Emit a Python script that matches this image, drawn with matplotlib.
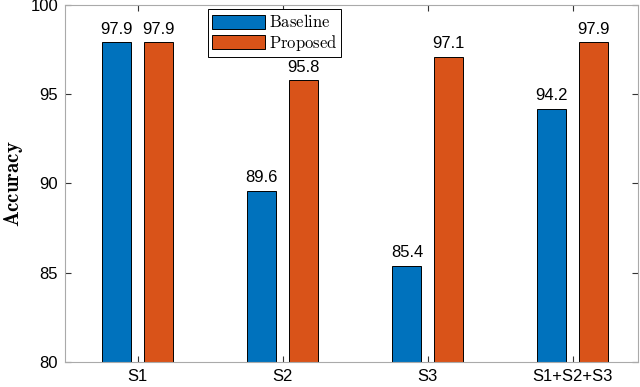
import numpy as np
import matplotlib.pyplot as plt

plt.rcParams['mathtext.fontset'] = 'cm'
plt.rcParams['font.family'] = ['Liberation Sans', 'DejaVu Sans']

# data
categories = ['S1', 'S2', 'S3', 'S1+S2+S3']
baseline = [97.9, 89.6, 85.4, 94.2]
proposed = [97.9, 95.8, 97.1, 97.9]

fig = plt.figure(figsize=(6.4, 3.87), dpi=100)
ax = fig.add_axes([65/640, 1-362/387, (638-65)/640, (362-5)/387])

x = np.arange(1, len(categories)+1)
w = 0.2
off = 0.143
b1 = ax.bar(x-off, baseline, w, color='#0072BD', edgecolor='black', linewidth=0.7,
            label=r'$\mathrm{Baseline}$')
b2 = ax.bar(x+off, proposed, w, color='#D95319', edgecolor='black', linewidth=0.7,
            label=r'$\mathrm{Proposed}$')

#value labels on top of bars
for xs, vals in [(x-off, baseline), (x+off, proposed)]:
    for xi, v in zip(xs, vals):
        ax.text(xi, v+0.3, '%.1f' % v, ha='center', va='bottom', fontsize=12)

ax.set_xlim(0.5, 4.45)
ax.set_ylim(80, 100)
ax.set_yticks([80, 85, 90, 95, 100])
ax.set_xticks(x)
ax.set_xticklabels(categories)
ax.tick_params(direction='in', top=True, right=True, labelsize=12, length=4,
               color='#333333', pad=5)
for s in ax.spines.values():
    s.set_color('#aaaaaa')
    s.set_linewidth(0.8)

ax.set_ylabel(r'$\mathbf{Accuracy}$', fontsize=15, labelpad=4)

leg = ax.legend(loc='upper left', bbox_to_anchor=(0.242, 1.0), fontsize=12,
                handlelength=3.2, handleheight=0.9, fancybox=False, framealpha=1,
                borderpad=0.25, labelspacing=0.15, handletextpad=0.2, borderaxespad=0.25)
leg.get_frame().set_edgecolor('black')
leg.get_frame().set_linewidth(0.7)

fig.savefig('out.png', dpi=100)
